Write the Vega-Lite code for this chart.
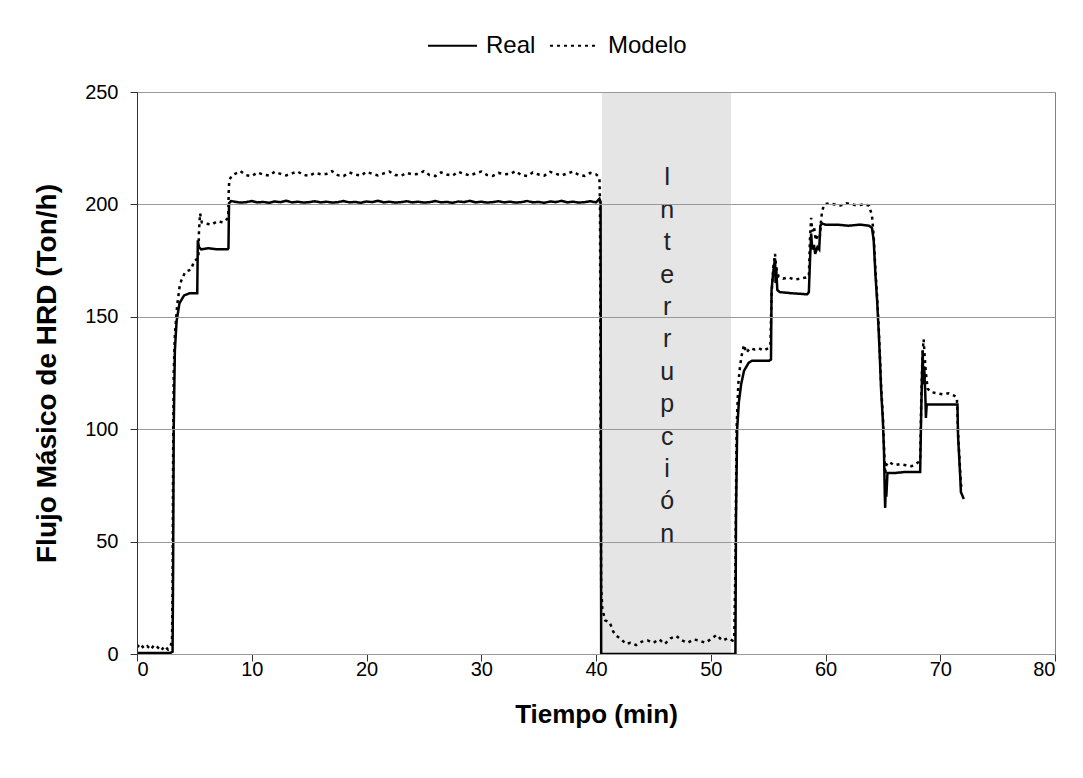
{
  "$schema": "https://vega.github.io/schema/vega-lite/v6.json",
  "width": 918,
  "height": 562,
  "autosize": {"type": "none"},
  "padding": {"left": 137, "top": 92, "right": 28, "bottom": 124},
  "background": "white",
  "config": {
    "font": "Liberation Sans",
    "view": {"stroke": "#808080", "strokeWidth": 1},
    "axis": {
      "labelFont": "Liberation Sans", "titleFont": "Liberation Sans",
      "labelFontSize": 20, "labelColor": "black",
      "titleFontSize": 26, "titleFontWeight": "bold", "titleColor": "black",
      "domainColor": "#333", "tickColor": "#333", "tickSize": 7
    },
    "legend": {"labelFont": "Liberation Sans", "labelFontSize": 24, "labelColor": "black"}
  },
  "datasets": {
    "band": [{"start": 40.52, "end": 51.76}],
    "note": [{"label": "Interrupción"}],
    "series": [
      {"t":0,"v":0.5,"s":"Real"},{"t":1,"v":0.5,"s":"Real"},{"t":2,"v":0.5,"s":"Real"},{"t":2.9,"v":0.5,"s":"Real"},
      {"t":3.1,"v":1,"s":"Real"},{"t":3.15,"v":40,"s":"Real"},{"t":3.2,"v":100,"s":"Real"},{"t":3.25,"v":118,"s":"Real"},
      {"t":3.3,"v":135,"s":"Real"},{"t":3.45,"v":148,"s":"Real"},{"t":3.7,"v":156,"s":"Real"},{"t":4.1,"v":159.5,"s":"Real"},
      {"t":4.6,"v":160.5,"s":"Real"},{"t":5.25,"v":160.5,"s":"Real"},{"t":5.3,"v":184,"s":"Real"},{"t":5.4,"v":181,"s":"Real"},
      {"t":5.6,"v":180,"s":"Real"},{"t":6.2,"v":180.5,"s":"Real"},{"t":7,"v":180,"s":"Real"},{"t":7.9,"v":180,"s":"Real"},
      {"t":7.97,"v":180.5,"s":"Real"},{"t":8.02,"v":200.5,"s":"Real"},{"t":8.2,"v":201.5,"s":"Real"},
      {"t":8.5,"v":201.2,"s":"Real"},{"t":9,"v":200.8,"s":"Real"},{"t":9.5,"v":201.0,"s":"Real"},{"t":10,"v":201.5,"s":"Real"},
      {"t":10.5,"v":200.9,"s":"Real"},{"t":11,"v":201.1,"s":"Real"},{"t":11.5,"v":200.7,"s":"Real"},{"t":12,"v":201.3,"s":"Real"},
      {"t":12.5,"v":201.0,"s":"Real"},{"t":13,"v":201.6,"s":"Real"},{"t":13.5,"v":200.9,"s":"Real"},{"t":14,"v":201.2,"s":"Real"},
      {"t":14.5,"v":200.8,"s":"Real"},{"t":15,"v":201.0,"s":"Real"},{"t":15.5,"v":201.4,"s":"Real"},{"t":16,"v":200.9,"s":"Real"},
      {"t":16.5,"v":201.2,"s":"Real"},{"t":17,"v":200.8,"s":"Real"},{"t":17.5,"v":201.0,"s":"Real"},{"t":18,"v":201.5,"s":"Real"},
      {"t":18.5,"v":200.9,"s":"Real"},{"t":19,"v":201.1,"s":"Real"},{"t":19.5,"v":200.7,"s":"Real"},{"t":20,"v":201.3,"s":"Real"},
      {"t":20.5,"v":201.0,"s":"Real"},{"t":21,"v":201.6,"s":"Real"},{"t":21.5,"v":200.9,"s":"Real"},{"t":22,"v":201.2,"s":"Real"},
      {"t":22.5,"v":200.8,"s":"Real"},{"t":23,"v":201.0,"s":"Real"},{"t":23.5,"v":201.4,"s":"Real"},{"t":24,"v":200.9,"s":"Real"},
      {"t":24.5,"v":201.2,"s":"Real"},{"t":25,"v":200.8,"s":"Real"},{"t":25.5,"v":201.0,"s":"Real"},{"t":26,"v":201.5,"s":"Real"},
      {"t":26.5,"v":200.9,"s":"Real"},{"t":27,"v":201.1,"s":"Real"},{"t":27.5,"v":200.7,"s":"Real"},{"t":28,"v":201.3,"s":"Real"},
      {"t":28.5,"v":201.0,"s":"Real"},{"t":29,"v":201.6,"s":"Real"},{"t":29.5,"v":200.9,"s":"Real"},{"t":30,"v":201.2,"s":"Real"},
      {"t":30.5,"v":200.8,"s":"Real"},{"t":31,"v":201.0,"s":"Real"},{"t":31.5,"v":201.4,"s":"Real"},{"t":32,"v":200.9,"s":"Real"},
      {"t":32.5,"v":201.2,"s":"Real"},{"t":33,"v":200.8,"s":"Real"},{"t":33.5,"v":201.0,"s":"Real"},{"t":34,"v":201.5,"s":"Real"},
      {"t":34.5,"v":200.9,"s":"Real"},{"t":35,"v":201.1,"s":"Real"},{"t":35.5,"v":200.7,"s":"Real"},{"t":36,"v":201.3,"s":"Real"},
      {"t":36.5,"v":201.0,"s":"Real"},{"t":37,"v":201.6,"s":"Real"},{"t":37.5,"v":200.9,"s":"Real"},{"t":38,"v":201.2,"s":"Real"},
      {"t":38.5,"v":200.8,"s":"Real"},{"t":39,"v":201.0,"s":"Real"},{"t":39.5,"v":201.4,"s":"Real"},{"t":40,"v":200.9,"s":"Real"},
      {"t":40.3,"v":202.5,"s":"Real"},{"t":40.4,"v":201,"s":"Real"},{"t":40.45,"v":0,"s":"Real"},{"t":52.15,"v":0,"s":"Real"},
      {"t":52.2,"v":60,"s":"Real"},{"t":52.3,"v":100,"s":"Real"},{"t":52.45,"v":112,"s":"Real"},{"t":52.65,"v":120,"s":"Real"},
      {"t":52.9,"v":126,"s":"Real"},{"t":53.3,"v":129.5,"s":"Real"},{"t":53.6,"v":130.5,"s":"Real"},{"t":55.1,"v":130.5,"s":"Real"},
      {"t":55.25,"v":131,"s":"Real"},{"t":55.3,"v":162,"s":"Real"},{"t":55.45,"v":170,"s":"Real"},{"t":55.6,"v":176,"s":"Real"},
      {"t":55.65,"v":165,"s":"Real"},{"t":55.7,"v":172,"s":"Real"},{"t":55.8,"v":162,"s":"Real"},{"t":56,"v":161,"s":"Real"},
      {"t":57,"v":160.5,"s":"Real"},{"t":58.4,"v":160,"s":"Real"},{"t":58.55,"v":161,"s":"Real"},{"t":58.65,"v":175,"s":"Real"},
      {"t":58.75,"v":187,"s":"Real"},{"t":58.85,"v":180,"s":"Real"},{"t":59.0,"v":182,"s":"Real"},{"t":59.1,"v":178,"s":"Real"},
      {"t":59.3,"v":181,"s":"Real"},{"t":59.45,"v":180,"s":"Real"},{"t":59.55,"v":190.5,"s":"Real"},{"t":59.7,"v":191.5,"s":"Real"},
      {"t":60,"v":191,"s":"Real"},{"t":61,"v":191,"s":"Real"},{"t":62,"v":190.5,"s":"Real"},{"t":63,"v":191,"s":"Real"},
      {"t":63.8,"v":190.5,"s":"Real"},{"t":64.05,"v":189.5,"s":"Real"},{"t":64.2,"v":184,"s":"Real"},{"t":64.35,"v":169,"s":"Real"},
      {"t":64.5,"v":157,"s":"Real"},{"t":64.65,"v":142,"s":"Real"},{"t":64.75,"v":130,"s":"Real"},{"t":64.85,"v":117,"s":"Real"},
      {"t":65.0,"v":104,"s":"Real"},{"t":65.1,"v":89.5,"s":"Real"},{"t":65.17,"v":70,"s":"Real"},{"t":65.2,"v":65,"s":"Real"},
      {"t":65.25,"v":75,"s":"Real"},{"t":65.3,"v":70,"s":"Real"},{"t":65.4,"v":80.5,"s":"Real"},{"t":66,"v":80.5,"s":"Real"},
      {"t":67,"v":81,"s":"Real"},{"t":68.25,"v":81,"s":"Real"},{"t":68.35,"v":110,"s":"Real"},{"t":68.42,"v":125,"s":"Real"},
      {"t":68.47,"v":135,"s":"Real"},{"t":68.52,"v":120,"s":"Real"},{"t":68.6,"v":128,"s":"Real"},{"t":68.7,"v":115,"s":"Real"},
      {"t":68.75,"v":105,"s":"Real"},{"t":68.82,"v":111,"s":"Real"},{"t":69.5,"v":111,"s":"Real"},{"t":70.5,"v":111,"s":"Real"},
      {"t":71.5,"v":111,"s":"Real"},{"t":71.55,"v":97,"s":"Real"},{"t":71.75,"v":78,"s":"Real"},{"t":71.8,"v":72,"s":"Real"},
      {"t":72.05,"v":69,"s":"Real"},

      {"t":0,"v":3,"s":"Modelo"},{"t":0.3,"v":4.5,"s":"Modelo"},{"t":0.6,"v":2.5,"s":"Modelo"},{"t":0.9,"v":3.5,"s":"Modelo"},
      {"t":1.2,"v":2,"s":"Modelo"},{"t":1.5,"v":4,"s":"Modelo"},{"t":1.8,"v":3,"s":"Modelo"},{"t":2.1,"v":1.5,"s":"Modelo"},
      {"t":2.4,"v":3.5,"s":"Modelo"},{"t":2.7,"v":2,"s":"Modelo"},{"t":2.95,"v":4,"s":"Modelo"},{"t":3.05,"v":6,"s":"Modelo"},
      {"t":3.1,"v":30,"s":"Modelo"},{"t":3.15,"v":90,"s":"Modelo"},{"t":3.2,"v":125,"s":"Modelo"},{"t":3.3,"v":142,"s":"Modelo"},
      {"t":3.5,"v":155,"s":"Modelo"},{"t":3.7,"v":163,"s":"Modelo"},{"t":3.85,"v":166,"s":"Modelo"},{"t":4.2,"v":170,"s":"Modelo"},
      {"t":4.7,"v":171,"s":"Modelo"},{"t":5.0,"v":175,"s":"Modelo"},{"t":5.35,"v":176,"s":"Modelo"},{"t":5.4,"v":188,"s":"Modelo"},
      {"t":5.5,"v":196,"s":"Modelo"},{"t":5.65,"v":192,"s":"Modelo"},{"t":6,"v":191.5,"s":"Modelo"},{"t":6.5,"v":191,"s":"Modelo"},
      {"t":7,"v":192.5,"s":"Modelo"},{"t":7.5,"v":192,"s":"Modelo"},{"t":7.85,"v":193.5,"s":"Modelo"},{"t":7.95,"v":195,"s":"Modelo"},
      {"t":8.0,"v":207,"s":"Modelo"},{"t":8.05,"v":211,"s":"Modelo"},{"t":8.3,"v":213,"s":"Modelo"},
      {"t":8.5,"v":213.5,"s":"Modelo"},{"t":9,"v":214.8,"s":"Modelo"},{"t":9.5,"v":213.0,"s":"Modelo"},{"t":10,"v":212.6,"s":"Modelo"},
      {"t":10.5,"v":214.2,"s":"Modelo"},{"t":11,"v":213.3,"s":"Modelo"},{"t":11.5,"v":212.8,"s":"Modelo"},{"t":12,"v":214.5,"s":"Modelo"},
      {"t":12.5,"v":213.6,"s":"Modelo"},{"t":13,"v":212.9,"s":"Modelo"},{"t":13.5,"v":213.8,"s":"Modelo"},{"t":14,"v":214.6,"s":"Modelo"},
      {"t":14.5,"v":213.1,"s":"Modelo"},{"t":15,"v":212.7,"s":"Modelo"},{"t":15.5,"v":214.0,"s":"Modelo"},{"t":16,"v":213.4,"s":"Modelo"},
      {"t":16.5,"v":213.5,"s":"Modelo"},{"t":17,"v":214.8,"s":"Modelo"},{"t":17.5,"v":213.0,"s":"Modelo"},{"t":18,"v":212.6,"s":"Modelo"},
      {"t":18.5,"v":214.2,"s":"Modelo"},{"t":19,"v":213.3,"s":"Modelo"},{"t":19.5,"v":212.8,"s":"Modelo"},{"t":20,"v":214.5,"s":"Modelo"},
      {"t":20.5,"v":213.6,"s":"Modelo"},{"t":21,"v":212.9,"s":"Modelo"},{"t":21.5,"v":213.8,"s":"Modelo"},{"t":22,"v":214.6,"s":"Modelo"},
      {"t":22.5,"v":213.1,"s":"Modelo"},{"t":23,"v":212.7,"s":"Modelo"},{"t":23.5,"v":214.0,"s":"Modelo"},{"t":24,"v":213.4,"s":"Modelo"},
      {"t":24.5,"v":213.5,"s":"Modelo"},{"t":25,"v":214.8,"s":"Modelo"},{"t":25.5,"v":213.0,"s":"Modelo"},{"t":26,"v":212.6,"s":"Modelo"},
      {"t":26.5,"v":214.2,"s":"Modelo"},{"t":27,"v":213.3,"s":"Modelo"},{"t":27.5,"v":212.8,"s":"Modelo"},{"t":28,"v":214.5,"s":"Modelo"},
      {"t":28.5,"v":213.6,"s":"Modelo"},{"t":29,"v":212.9,"s":"Modelo"},{"t":29.5,"v":213.8,"s":"Modelo"},{"t":30,"v":214.6,"s":"Modelo"},
      {"t":30.5,"v":213.1,"s":"Modelo"},{"t":31,"v":212.7,"s":"Modelo"},{"t":31.5,"v":214.0,"s":"Modelo"},{"t":32,"v":213.4,"s":"Modelo"},
      {"t":32.5,"v":213.5,"s":"Modelo"},{"t":33,"v":214.8,"s":"Modelo"},{"t":33.5,"v":213.0,"s":"Modelo"},{"t":34,"v":212.6,"s":"Modelo"},
      {"t":34.5,"v":214.2,"s":"Modelo"},{"t":35,"v":213.3,"s":"Modelo"},{"t":35.5,"v":212.8,"s":"Modelo"},{"t":36,"v":214.5,"s":"Modelo"},
      {"t":36.5,"v":213.6,"s":"Modelo"},{"t":37,"v":212.9,"s":"Modelo"},{"t":37.5,"v":213.8,"s":"Modelo"},{"t":38,"v":214.6,"s":"Modelo"},
      {"t":38.5,"v":213.1,"s":"Modelo"},{"t":39,"v":212.7,"s":"Modelo"},{"t":39.5,"v":214.0,"s":"Modelo"},{"t":40,"v":213.4,"s":"Modelo"},
      {"t":40.3,"v":212,"s":"Modelo"},{"t":40.35,"v":200,"s":"Modelo"},{"t":40.4,"v":100,"s":"Modelo"},{"t":40.45,"v":30,"s":"Modelo"},
      {"t":40.55,"v":20,"s":"Modelo"},{"t":40.8,"v":15,"s":"Modelo"},{"t":41.2,"v":14,"s":"Modelo"},{"t":41.5,"v":10,"s":"Modelo"},
      {"t":41.8,"v":8,"s":"Modelo"},{"t":42.2,"v":6.5,"s":"Modelo"},{"t":42.6,"v":4.5,"s":"Modelo"},{"t":43,"v":5,"s":"Modelo"},
      {"t":43.5,"v":4,"s":"Modelo"},{"t":44,"v":5.5,"s":"Modelo"},{"t":44.5,"v":6,"s":"Modelo"},{"t":45,"v":5,"s":"Modelo"},
      {"t":45.5,"v":6.5,"s":"Modelo"},{"t":46,"v":4.5,"s":"Modelo"},{"t":46.5,"v":7,"s":"Modelo"},{"t":47,"v":8,"s":"Modelo"},
      {"t":47.5,"v":6,"s":"Modelo"},{"t":48,"v":5,"s":"Modelo"},{"t":48.5,"v":6.5,"s":"Modelo"},{"t":49,"v":6,"s":"Modelo"},
      {"t":49.5,"v":5,"s":"Modelo"},{"t":50,"v":6.5,"s":"Modelo"},{"t":50.5,"v":8.5,"s":"Modelo"},{"t":51,"v":6,"s":"Modelo"},
      {"t":51.5,"v":7,"s":"Modelo"},{"t":51.9,"v":6,"s":"Modelo"},{"t":52.05,"v":8,"s":"Modelo"},{"t":52.15,"v":40,"s":"Modelo"},
      {"t":52.25,"v":100,"s":"Modelo"},{"t":52.4,"v":120,"s":"Modelo"},{"t":52.55,"v":128,"s":"Modelo"},{"t":52.7,"v":133,"s":"Modelo"},
      {"t":52.9,"v":137.5,"s":"Modelo"},{"t":53.1,"v":134,"s":"Modelo"},{"t":53.4,"v":136,"s":"Modelo"},{"t":53.8,"v":135.5,"s":"Modelo"},
      {"t":54.2,"v":136,"s":"Modelo"},{"t":54.6,"v":135,"s":"Modelo"},{"t":55.0,"v":136,"s":"Modelo"},{"t":55.2,"v":138,"s":"Modelo"},
      {"t":55.3,"v":160,"s":"Modelo"},{"t":55.45,"v":172,"s":"Modelo"},{"t":55.6,"v":178,"s":"Modelo"},{"t":55.7,"v":172,"s":"Modelo"},
      {"t":55.9,"v":168,"s":"Modelo"},{"t":56.3,"v":167,"s":"Modelo"},{"t":56.8,"v":167.5,"s":"Modelo"},{"t":57.3,"v":166.5,"s":"Modelo"},
      {"t":57.8,"v":167,"s":"Modelo"},{"t":58.3,"v":167.5,"s":"Modelo"},{"t":58.55,"v":168,"s":"Modelo"},{"t":58.65,"v":185,"s":"Modelo"},
      {"t":58.75,"v":194,"s":"Modelo"},{"t":58.85,"v":188,"s":"Modelo"},{"t":59.0,"v":190,"s":"Modelo"},{"t":59.15,"v":184,"s":"Modelo"},
      {"t":59.3,"v":186,"s":"Modelo"},{"t":59.5,"v":185,"s":"Modelo"},{"t":59.6,"v":192,"s":"Modelo"},{"t":59.7,"v":197,"s":"Modelo"},
      {"t":59.9,"v":200,"s":"Modelo"},{"t":60.3,"v":200.5,"s":"Modelo"},{"t":60.8,"v":200,"s":"Modelo"},{"t":61.3,"v":199.5,"s":"Modelo"},
      {"t":61.8,"v":200.5,"s":"Modelo"},{"t":62.3,"v":200,"s":"Modelo"},{"t":62.8,"v":199.5,"s":"Modelo"},{"t":63.3,"v":200,"s":"Modelo"},
      {"t":63.8,"v":199.5,"s":"Modelo"},{"t":64.05,"v":195,"s":"Modelo"},{"t":64.2,"v":186,"s":"Modelo"},{"t":64.35,"v":171,"s":"Modelo"},
      {"t":64.5,"v":159,"s":"Modelo"},{"t":64.65,"v":144,"s":"Modelo"},{"t":64.75,"v":132,"s":"Modelo"},{"t":64.85,"v":119,"s":"Modelo"},
      {"t":65.0,"v":106,"s":"Modelo"},{"t":65.1,"v":92,"s":"Modelo"},{"t":65.2,"v":80,"s":"Modelo"},{"t":65.3,"v":84,"s":"Modelo"},
      {"t":65.5,"v":85.5,"s":"Modelo"},{"t":66,"v":84,"s":"Modelo"},{"t":66.5,"v":84.5,"s":"Modelo"},{"t":67,"v":84,"s":"Modelo"},
      {"t":67.5,"v":83.5,"s":"Modelo"},{"t":68,"v":85,"s":"Modelo"},{"t":68.25,"v":86,"s":"Modelo"},{"t":68.35,"v":115,"s":"Modelo"},
      {"t":68.45,"v":133,"s":"Modelo"},{"t":68.55,"v":140,"s":"Modelo"},{"t":68.65,"v":132,"s":"Modelo"},{"t":68.75,"v":125,"s":"Modelo"},
      {"t":68.9,"v":118,"s":"Modelo"},{"t":69.2,"v":116.5,"s":"Modelo"},{"t":69.7,"v":116,"s":"Modelo"},{"t":70.2,"v":115.5,"s":"Modelo"},
      {"t":70.7,"v":116,"s":"Modelo"},{"t":71.2,"v":115,"s":"Modelo"},{"t":71.45,"v":114,"s":"Modelo"},{"t":71.55,"v":99,"s":"Modelo"},
      {"t":71.75,"v":80,"s":"Modelo"},{"t":71.85,"v":73,"s":"Modelo"}
    ]
  },
  "layer": [
    {
      "data": {"name": "band"},
      "mark": {"type": "rect", "color": "#e5e5e5"},
      "encoding": {
        "x": {"field": "start", "type": "quantitative"},
        "x2": {"field": "end"}
      }
    },
    {
      "data": {"name": "series"},
      "mark": {"type": "line", "strokeWidth": 2.5, "color": "black", "clip": true},
      "encoding": {
        "x": {
          "field": "t", "type": "quantitative",
          "scale": {"domain": [0, 80], "nice": false},
          "axis": {"title": "Tiempo (min)", "values": [0,10,20,30,40,50,60,70,80], "grid": false,
                   "labelPadding": -2, "titlePadding": 22, "format": "d"}
        },
        "y": {
          "field": "v", "type": "quantitative",
          "scale": {"domain": [0, 250], "nice": false},
          "axis": {"title": "Flujo Másico de HRD (Ton/h)", "values": [0,50,100,150,200,250],
                   "grid": true, "gridColor": "#999", "gridWidth": 1, "zindex": 1,
                   "labelPadding": 12, "titlePadding": 23, "titleFontSize": 28, "format": "d"}
        },
        "strokeDash": {
          "field": "s", "type": "nominal",
          "scale": {"domain": ["Real", "Modelo"], "range": [[1, 0], [3, 4]]},
          "legend": {
            "title": null, "orient": "none", "legendX": 290, "legendY": -72,
            "direction": "horizontal", "symbolType": "stroke", "symbolSize": 2400,
            "symbolStrokeWidth": 2, "symbolStrokeColor": "black",
            "labelOffset": 8, "columnPadding": 10,
            "encode": {"symbols": {"update": {"strokeDash": {"signal": "datum.value === 'Modelo' ? [4, 9] : [1, 0]"}}}}
          }
        }
      }
    },
    {
      "data": {"name": "note"},
      "mark": {
        "type": "text",
        "text": ["I","n","t","e","r","r","u","p","c","i","ó","n"],
        "font": "Liberation Sans", "fontSize": 25, "lineHeight": 32.4,
        "baseline": "middle", "align": "center", "color": "#222"
      },
      "encoding": {
        "x": {"datum": 46.2},
        "y": {"datum": 212}
      }
    }
  ]
}
